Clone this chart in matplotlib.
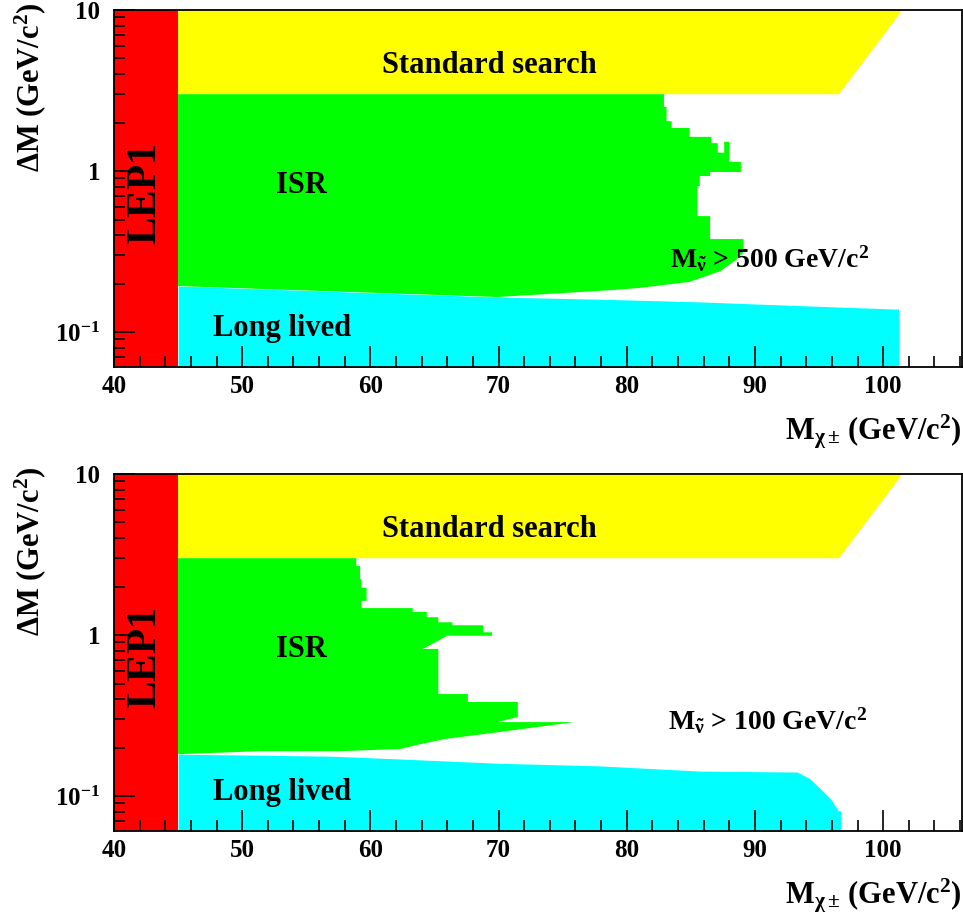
import numpy as np
import matplotlib.pyplot as plt
from matplotlib.ticker import FixedLocator, NullFormatter

plt.rcParams['font.family'] = ['Liberation Serif', 'DejaVu Serif']
plt.rcParams['font.weight'] = 'bold'
plt.rcParams['mathtext.fontset'] = 'custom'
plt.rcParams['mathtext.rm'] = 'Liberation Serif:bold'
plt.rcParams['mathtext.it'] = 'Liberation Serif:bold'
plt.rcParams['mathtext.bf'] = 'Liberation Serif:bold'
plt.rcParams['mathtext.default'] = 'rm'

# excluded regions (mass in GeV/c^2, dM in GeV/c^2)
lep1_limit = 45.0
std_dm_low = 3.0
std_dm_high = 10.0
yellow_edge_mass = [96.55, 101.5]
yellow_edge_dm = [3.0, 10.0]

# M_snu > 500 GeV/c^2
isr500_mass = [45.0, 82.9, 82.9, 83.1, 83.1, 83.5, 83.5, 84.9, 84.9, 86.6, 86.6, 87.1,
               87.1, 87.6, 87.6, 88.0, 88.0, 88.9, 88.9, 86.5, 86.5, 85.7, 85.7, 85.5,
               85.5, 86.5, 86.5, 89.1, 89.1, 88.6, 87.3, 84.9, 81.0, 78.7, 69.9, 63.3,
               54.3, 45.0]
isr500_dm = [3.0, 3.0, 2.5, 2.5, 2.04, 2.04, 1.85, 1.85, 1.63, 1.63, 1.49, 1.49,
             1.30, 1.30, 1.52, 1.52, 1.14, 1.14, 0.986, 0.986, 0.931, 0.931, 0.807, 0.807,
             0.525, 0.525, 0.378, 0.378, 0.314, 0.284, 0.239, 0.205, 0.188, 0.182, 0.165, 0.172,
             0.182, 0.193]
long500_mass = [45.0, 54.3, 63.3, 69.9, 77.9, 85.7, 93.5, 100.9, 101.2]
long500_dm = [0.193, 0.182, 0.172, 0.165, 0.160, 0.154, 0.146, 0.139, 0.139]

# M_snu > 100 GeV/c^2
isr100_mass = [45.0, 58.9, 58.9, 59.2, 59.2, 59.3, 59.3, 59.7, 59.7, 59.3, 59.3, 63.3,
               63.3, 64.4, 64.4, 65.3, 65.3, 66.4, 66.4, 68.8, 68.8, 69.5, 69.5, 66.0,
               64.1, 65.3, 65.3, 67.6, 67.6, 71.5, 71.5, 69.9, 75.9, 70.1, 65.8, 63.9,
               62.3, 57.6, 51.4, 45.0]
isr100_dm = [3.0, 3.0, 2.68, 2.68, 2.23, 2.23, 1.96, 1.96, 1.63, 1.63, 1.47, 1.47,
             1.39, 1.39, 1.29, 1.29, 1.20, 1.20, 1.15, 1.15, 1.04, 1.04, 0.99, 0.99,
             0.82, 0.82, 0.43, 0.43, 0.384, 0.384, 0.31, 0.288, 0.288, 0.25, 0.226, 0.21,
             0.196, 0.19, 0.19, 0.182]
long100_mass = [45.0, 56.9, 62.3, 69.9, 77.9, 85.7, 93.3, 94.3, 95.9, 96.5, 96.7]
long100_dm = [0.182, 0.177, 0.170, 0.160, 0.154, 0.143, 0.141, 0.128, 0.096, 0.081, 0.081]

panel_labels = [r'M$_{\tilde{\nu}}$ > 500 GeV/c$^{2}$', r'M$_{\tilde{\nu}}$ > 100 GeV/c$^{2}$']
panel_label_pos = [(83.4, 0.25), (83.2, 0.26)]

x_min, x_max = 40, 106.15
y_min, y_max = 0.0607, 10


def draw_panel(ax, isr_mass, isr_dm, long_mass, long_dm, label, label_pos):
    ax.axvspan(x_min, lep1_limit, color='#ff0000', lw=0)
    ym = [std_dm_high, std_dm_low] + yellow_edge_dm
    xm = [lep1_limit, lep1_limit] + yellow_edge_mass
    ax.fill(xm, ym, color='#ffff00', lw=0)
    ax.fill(isr_mass, isr_dm, color='#00ff00', lw=0)
    ax.fill_between(long_mass, 0.01, long_dm, color='#00ffff', lw=0)

    ax.set_yscale('log')
    ax.set_xlim(x_min, x_max)
    ax.set_ylim(y_min, y_max)

    ax.xaxis.set_major_locator(FixedLocator([40, 50, 60, 70, 80, 90, 100]))
    ax.xaxis.set_minor_locator(FixedLocator(np.arange(40, 107, 2)))
    ax.set_xticklabels(['40', '50', '60', '70', '80', '90', '100'])
    ax.yaxis.set_major_locator(FixedLocator([0.1, 1, 10]))
    minors = [m * 10.0 ** e for e in (-2, -1, 0) for m in range(2, 10)]
    ax.yaxis.set_minor_locator(FixedLocator(minors))
    ax.yaxis.set_minor_formatter(NullFormatter())
    ax.set_yticklabels([r'$10^{-1}$', '1', '10'])
    ax.tick_params(which='both', direction='in', top=False, right=False, labelsize=18)
    ax.tick_params(which='major', length=15, width=1.2)
    ax.tick_params(which='minor', length=8, width=1.2)
    ax.tick_params(axis='x', pad=6)
    ax.tick_params(axis='y', pad=10)
    for s in ax.spines.values():
        s.set_linewidth(1.3)
        s.set_zorder(5)

    ax.text(69.25, 4.55, 'Standard search', fontsize=22, ha='center', va='center')
    ax.text(54.66, 0.81, 'ISR', fontsize=22, ha='center', va='center')
    ax.text(53.1, 0.105, 'Long lived', fontsize=22, ha='center', va='center')
    ax.text(42.4, 0.73, 'LEP1', fontsize=30, ha='center', va='center', rotation=90)
    ax.text(label_pos[0], label_pos[1], label, fontsize=20, ha='left', va='baseline')

    ax.text(-0.099, 1.02, r'$\Delta$M (GeV/c$^{2}$)', transform=ax.transAxes,
            fontsize=22, ha='center', va='top', rotation=90)
    ax.text(1.0, -0.18, r'M$_{\chi\pm}\,$(GeV/c$^{2}$)', transform=ax.transAxes,
            fontsize=22, ha='right', va='center')


fig = plt.figure(figsize=(9.63, 9.24), dpi=100)
ax1 = fig.add_axes([114 / 963, 1 - 367 / 924, 848 / 963, 357 / 924])
ax2 = fig.add_axes([114 / 963, 1 - 831 / 924, 848 / 963, 357 / 924])

draw_panel(ax1, isr500_mass, isr500_dm, long500_mass, long500_dm, panel_labels[0], panel_label_pos[0])
draw_panel(ax2, isr100_mass, isr100_dm, long100_mass, long100_dm, panel_labels[1], panel_label_pos[1])

fig.savefig('out.png', dpi=100)
